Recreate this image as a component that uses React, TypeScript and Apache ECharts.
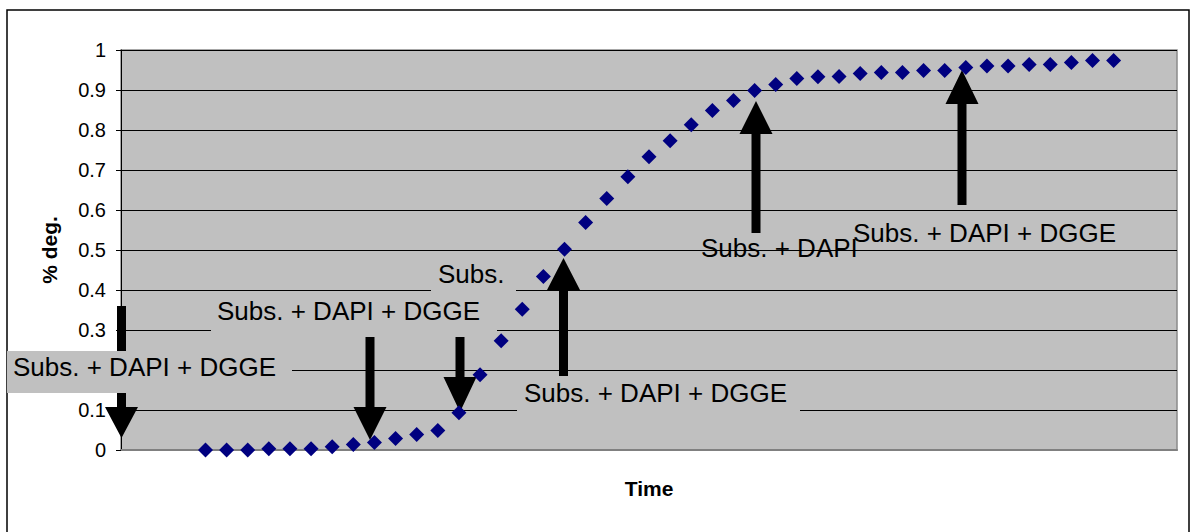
import React, { useEffect, useRef } from "react";
import * as echarts from "echarts";

// Time points (x) and fraction degraded (y)
const timePoints = [
  4, 5, 6, 7, 8, 9, 10, 11, 12, 13, 14, 15, 16, 17, 18, 19, 20, 21, 22, 23, 24, 25,
  26, 27, 28, 29, 30, 31, 32, 33, 34, 35, 36, 37, 38, 39, 40, 41, 42, 43, 44, 45, 46, 47,
];
const degValues = [
  0, 0, 0, 0.003, 0.003, 0.003, 0.008, 0.014, 0.019, 0.029, 0.039, 0.049,
  0.093, 0.188, 0.273, 0.352, 0.434, 0.502, 0.569, 0.629, 0.683, 0.733, 0.773,
  0.813, 0.849, 0.874, 0.899, 0.914, 0.929, 0.933, 0.934, 0.941, 0.944, 0.944,
  0.949, 0.949, 0.956, 0.96, 0.96, 0.964, 0.964, 0.969, 0.974, 0.974,
];
// "0.2" is hidden under the left annotation box in the reference
const yTickLabels = ["0", "0.1", "", "0.3", "0.4", "0.5", "0.6", "0.7", "0.8", "0.9", "1"];
const annotationTexts = [
  "Subs. + DAPI + DGGE",
  "Subs. + DAPI + DGGE",
  "Subs.",
  "Subs. + DAPI + DGGE",
  "Subs. + DAPI",
  "Subs. + DAPI + DGGE",
];

const FONT = '"Liberation Sans", Arial, sans-serif';
const PLOT_BG = "#C0C0C0";

function arrow(cx: number, tail: number, base: number, tip: number, sw = 9, hw = 33) {
  return {
    type: "polygon",
    z: 3,
    silent: true,
    shape: {
      points: [
        [cx - sw / 2, tail],
        [cx + sw / 2, tail],
        [cx + sw / 2, base],
        [cx + hw / 2, base],
        [cx, tip],
        [cx - hw / 2, base],
        [cx - sw / 2, base],
      ],
    },
    style: { fill: "#000" },
  };
}

function box(x: number, y: number, w: number, h: number) {
  return {
    type: "rect",
    z: 4,
    silent: true,
    shape: { x, y, width: w, height: h },
    style: { fill: PLOT_BG },
  };
}

function label(text: string, x: number, y: number) {
  return {
    type: "text",
    z: 5,
    silent: true,
    style: {
      text,
      x,
      y,
      fill: "#000",
      fontSize: 26,
      fontFamily: FONT,
      textAlign: "left",
      textVerticalAlign: "middle",
    },
  };
}

export default function App() {
  const ref = useRef<HTMLDivElement>(null);

  useEffect(() => {
    if (!ref.current) return;
    const chart = echarts.init(ref.current, null, { renderer: "svg" });
    const data = timePoints.map((t, i) => [t, degValues[i]]);

    chart.setOption({
      animation: false,
      backgroundColor: "#fff",
      textStyle: { fontFamily: FONT },
      grid: {
        left: 121,
        right: 13,
        top: 50,
        bottom: 82,
        show: true,
        backgroundColor: PLOT_BG,
        borderColor: "#8a8a8a",
        borderWidth: 1.5,
      },
      xAxis: {
        type: "value",
        min: 0,
        max: 50,
        name: "Time",
        nameLocation: "middle",
        nameGap: 28,
        nameTextStyle: {
          fontSize: 21,
          fontWeight: "bold",
          color: "#000",
          fontFamily: FONT,
          verticalAlign: "top",
        },
        axisLine: { show: true, lineStyle: { color: "#808080", width: 2 } },
        axisTick: { show: false },
        axisLabel: { show: false },
        splitLine: { show: false },
      },
      yAxis: {
        type: "value",
        min: 0,
        max: 1,
        interval: 0.1,
        name: "% deg.",
        nameLocation: "middle",
        nameGap: 61,
        nameTextStyle: {
          fontSize: 21,
          fontWeight: "bold",
          color: "#000",
          fontFamily: FONT,
        },
        axisLine: { show: true, lineStyle: { color: "#000", width: 1 } },
        axisTick: { show: true, inside: false, length: 5, lineStyle: { color: "#000" } },
        axisLabel: {
          color: "#000",
          fontSize: 20,
          fontFamily: FONT,
          margin: 15,
          formatter: (v: number) => {
            const s = yTickLabels[Math.round(v * 10)];
            return s === undefined ? String(v) : s;
          },
        },
        splitLine: { show: true, lineStyle: { color: "#000", width: 1 } },
      },
      series: [
        {
          type: "scatter",
          z: 10,
          data,
          symbol: "diamond",
          symbolSize: 15,
          itemStyle: { color: "#000080", opacity: 1 },
        },
      ],
      graphic: [
        {
          type: "rect",
          z: 1,
          silent: true,
          shape: { x: 7, y: 10, width: 1182, height: 540 },
          style: { fill: "none", stroke: "#000", lineWidth: 1.5 },
        },
        // arrows
        arrow(121.5, 306, 407, 438),
        arrow(370, 337, 407, 440),
        arrow(460, 337, 377, 412),
        arrow(563.5, 376, 290, 258),
        arrow(756, 233, 134, 101),
        arrow(962, 205, 104, 70),
        // label boxes
        box(7, 351, 285, 42),
        box(211, 292, 286, 41),
        box(431, 256, 85, 38),
        box(517, 376, 283, 38),
        // labels
        label(annotationTexts[0], 13, 367),
        label(annotationTexts[1], 217, 311),
        label(annotationTexts[2], 438, 274),
        label(annotationTexts[3], 524, 393),
        label(annotationTexts[4], 701, 248),
        label(annotationTexts[5], 853, 233),
      ],
    });

    return () => chart.dispose();
  }, []);

  return (
    <div
      ref={ref}
      style={{ position: "absolute", left: 0, top: 0, width: 1190, height: 532 }}
    />
  );
}
